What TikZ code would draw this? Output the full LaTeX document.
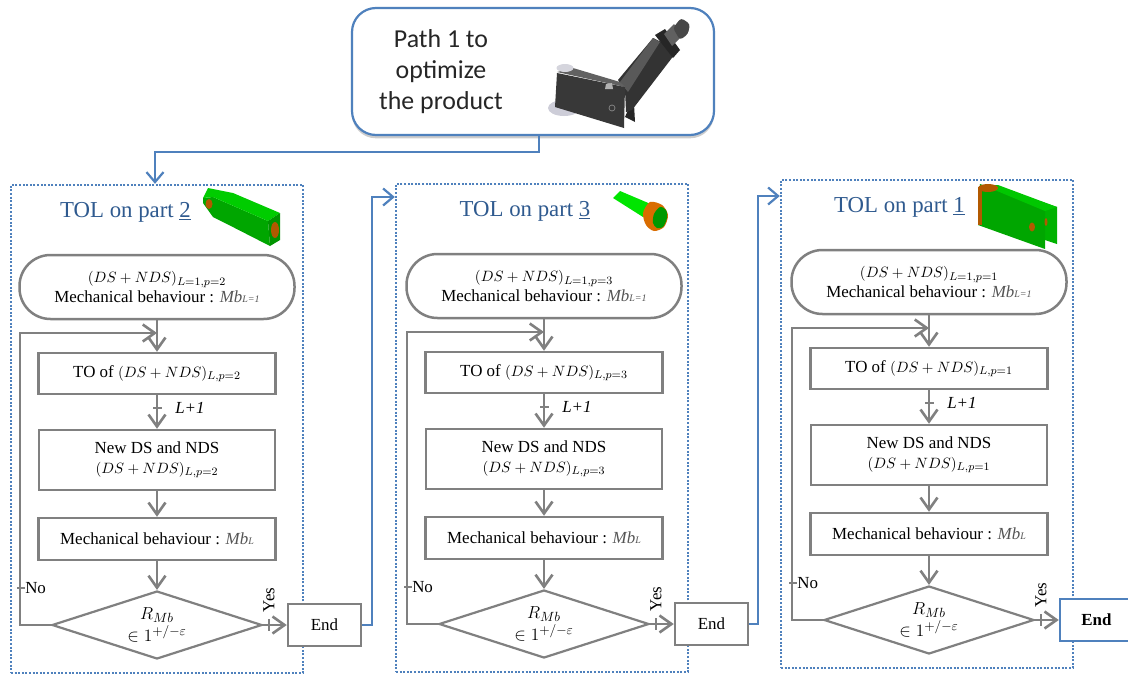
\RequirePackage{fix-cm}
\documentclass[tikz,border=0pt]{standalone}
\usepackage{fontspec}
\setmainfont{Liberation Serif}
\newfontfamily\calfont{Carlito}
\usetikzlibrary{arrows.meta,shapes.geometric,shadows,calc}
\definecolor{lineblue}{HTML}{4F81BD}
\definecolor{flowgray}{HTML}{808080}
\definecolor{titleblue}{HTML}{2F5A8F}
\definecolor{mbgray}{HTML}{555555}
\DeclareMathSizes{11.2}{11.2}{8.5}{6.5}
\DeclareMathSizes{13}{13}{10}{8}
\newcommand{\pxu}{0.75pt}
\newcommand{\mbtext}[1]{{\color{mbgray}\textit{Mb}{\fontsize{7.5pt}{8pt}\selectfont\textit{#1}}}}
\newcommand{\mathsz}[1]{{\fontsize{11.2pt}{14.3pt}\selectfont$#1$}}
\tikzset{
  x=0.75pt,y=-0.75pt,
  flowbox/.style={draw=flowgray,line width=2.5*\pxu,fill=white,inner sep=0pt,align=center,text=black,font=\fontsize{12.7pt}{14.6pt}\selectfont},
  pillbox/.style={flowbox,rounded corners=31*\pxu},
  decision/.style={flowbox,line width=2.2*\pxu,diamond,aspect=3.1,minimum width=210*\pxu,minimum height=68*\pxu},
  endplain/.style={flowbox},
  endblue/.style={flowbox,draw=lineblue,font=\fontsize{12.7pt}{14.6pt}\selectfont\bfseries},
  flowline/.style={draw=flowgray,line width=2.6*\pxu,-{Straight Barb[length=12*\pxu,width=17*\pxu,line width=2.6*\pxu]}},
  tick/.style={draw=flowgray,line width=1.3*\pxu},
  blueline/.style={draw=lineblue,line width=2.2*\pxu,-{Straight Barb[length=10*\pxu,width=17*\pxu,line width=2.2*\pxu]}},
  dotbox/.style={draw=lineblue,line width=2.4*\pxu,dash pattern=on 2*\pxu off 1.6*\pxu},
  titletext/.style={text=titleblue,font=\fontsize{17.1pt}{19pt}\selectfont,inner sep=0pt},
  smalltext/.style={inner sep=0pt,font=\fontsize{12.7pt}{14pt}\selectfont},
}
% #1 prefix, #2 shift, #3 part number, #4 title centre x, #5 End style, #6 frame centre x
\newcommand{\panel}[6]{
\begin{scope}[shift={#2}]
  \node[dotbox,minimum width=292*\pxu,minimum height=488*\pxu,inner sep=0pt] (#1frame) at (#6,429) {};
  \node[titletext] (#1title) at (#4,212) {TOL on part \underline{#3}};
  \node[pillbox,minimum width=275*\pxu,minimum height=64*\pxu] (#1pill) at (157,287) {\mathsz{(DS+NDS)_{L=1,p=#3}}\\Mechanical behaviour : \mbtext{L=1}};
  \node[flowbox,minimum width=237*\pxu,minimum height=41*\pxu] (#1to) at (157,373.5) {TO of \mathsz{(DS+NDS)_{L,p=#3}}};
  \node[flowbox,minimum width=236*\pxu,minimum height=60*\pxu] (#1new) at (157,460) {New DS and NDS\\\mathsz{(DS+NDS)_{L,p=#3}}};
  \node[flowbox,minimum width=237*\pxu,minimum height=42*\pxu] (#1mb) at (157,539) {Mechanical behaviour : \mbtext{L}};
  \node[decision] (#1dec) at (157,625) {};
  \node[inner sep=0pt,align=center,font=\fontsize{13pt}{17pt}\selectfont] (#1dectext) at (157,625) {$R_{Mb}$\\$\in 1^{+/-\varepsilon}$};
  \node[#5,minimum width=73*\pxu,minimum height=42*\pxu] (#1end) at (324.5,625) {End};
  \coordinate (#1join) at (157,333);
  \coordinate (#1left) at (20,333);
  \draw[flowline] (#1pill.south) -- (#1to.north);
  \draw[flowline] (#1to.south) -- (#1new.north);
  \draw[flowline] (#1new.south) -- (#1mb.north);
  \draw[flowline] (#1mb.south) -- (#1dec.north);
  \draw[flowline] (#1dec.west) -- (#1dec.west -| #1left) -- (#1left) -- (#1join);
  \draw[flowline] (#1dec.east) -- (#1end.west);
  \coordinate (#1tickA) at (153,408);
  \coordinate (#1tickB) at (162,408);
  \draw[tick] (#1tickA) -- (#1tickB);
  \coordinate (#1tickC) at (17,588);
  \coordinate (#1tickD) at (25,588);
  \draw[tick] (#1tickC) -- (#1tickD);
  \coordinate (#1tickE) at (269,619);
  \coordinate (#1tickF) at (269,631);
  \draw[tick] (#1tickE) -- (#1tickF);
  \node[smalltext,anchor=west] (#1lplus) at (175,408) {\textit{L+1}};
  \node[smalltext,anchor=west] (#1no) at (25,588) {No};
  \node[smalltext,rotate=90] (#1yes) at (269,600) {Yes};
\end{scope}
}
\begin{document}
\begin{tikzpicture}
\useasboundingbox (0,0) rectangle (1128,675);
\fill[white] (0,0) rectangle (1128,675);

% top box
\node[draw=lineblue,line width=2.2*\pxu,fill=white,rounded corners=24*\pxu,minimum width=362*\pxu,minimum height=127*\pxu,inner sep=0pt,
  drop shadow={shadow xshift=0pt,shadow yshift=-2.5pt,opacity=.2,fill=black}] (topbox) at (533,71.5) {};
\node[inner sep=0pt,align=center,font=\calfont\fontsize{19.4pt}{23.2pt}\selectfont,text=black!85] (toptext) at (441,72) {Path 1 to\\optimize\\the product};

% product model
\fill[blue!12!gray!35!white] (564,108) ellipse (16 and 8);
\fill[black!85] (628,110) -- (634,104) -- (635,122) -- (625,117) -- cycle;
\fill[black!80] (618,80) -- (653,38) -- (678,50) -- (632,110) -- (626,112) -- (625,90) -- cycle;
\fill[black!65] (653,38) -- (660,42) -- (628,92) -- (620,82) -- cycle;
\fill[black!85] (655,35) -- (665,29) -- (680,50) -- (673,58) -- cycle;
\fill[gray!75!black] (664,34) -- (674,24) -- (682,36) -- (672,46) -- cycle;
\fill[black!72,rounded corners=3*\pxu] (673,28) -- (681,18) -- (690,24) -- (688,34) -- (680,40) -- cycle;
\fill[black!78] (557,73) -- (555,107) -- (624,128) -- (625,87) -- cycle;
\fill[black!62] (557,72) -- (573,68) -- (620,82) -- (625,87) -- cycle;
\draw[black!45,line width=.5pt] (612,108) circle (3);
\fill[gray!60!white] (606,84) -- (612,83) -- (613,89) -- (605,89) -- cycle;
\fill[blue!10!gray!30!white] (565,68) ellipse (8.5 and 4);

\panel{a}{(0,0)}{2}{125.5}{endplain}{157}
\panel{b}{(387,-1)}{3}{138}{endplain}{155}
\panel{c}{(772,-5)}{1}{127.5}{endblue}{155}

% connectors between blocks
\coordinate (topdrop) at (539,152);
\coordinate (topleft) at (155,152);
\draw[blueline] (topbox.south -| topdrop) -- (topdrop) -- (topleft) -- (aframe.north -| topleft);
\coordinate (rise1) at (372,197);
\coordinate (rise2) at (758,196);
\draw[blueline] (aend.east) -- (aend.east -| rise1) -- (rise1) -- (bframe.west |- rise1);
\draw[blueline] (bend.east) -- (bend.east -| rise2) -- (rise2) -- (cframe.west |- rise2);

% part 2
\fill[green!65!black] (203,198) -- (213,197) -- (268,221) -- (270,246) -- (223,222) -- (213,217) -- (203,203) -- cycle;
\fill[green!80!black] (203,198) -- (208,188) -- (233,193) -- (280,213) -- (268,221) -- (213,197) -- cycle;
\fill[green!58!black] (268,221) -- (280,213) -- (280,240) -- (270,246) -- cycle;
\fill[orange!70!black] (209,204) ellipse (3.5 and 5);
\fill[orange!70!black] (275,230) ellipse (4 and 8);

% part 3
\fill[green!90!black] (613,198) -- (620,191) -- (653,205) -- (643,217) -- cycle;
\fill[orange!85!black] plot[smooth cycle] coordinates {(643,213) (650,202) (662,205) (668,215) (664,227) (654,231) (646,225)};
\fill[green!60!black] plot[smooth cycle] coordinates {(660,207) (666,210) (667,218) (663,227) (657,228) (653,223) (654,214)};

% part 1
\fill[green!70!black] (1030,198) -- (1057,207) -- (1057,244) -- (1045,240) -- (1045,205) -- cycle;
\fill[green!65!black] (980,184) -- (1045,207) -- (1045,249) -- (978,225) -- cycle;
\fill[green!78!black] (985,186) -- (998,185) -- (1057,207) -- (1045,211) -- cycle;
\fill[orange!70!black] (978,187) rectangle (982,225);
\fill[orange!70!black] (988,188) ellipse (10 and 4);
\fill[orange!70!black] (1032,227) ellipse (3 and 4.5);
\fill[orange!70!black] (1046,222) ellipse (1.5 and 4);
\end{tikzpicture}
\end{document}
